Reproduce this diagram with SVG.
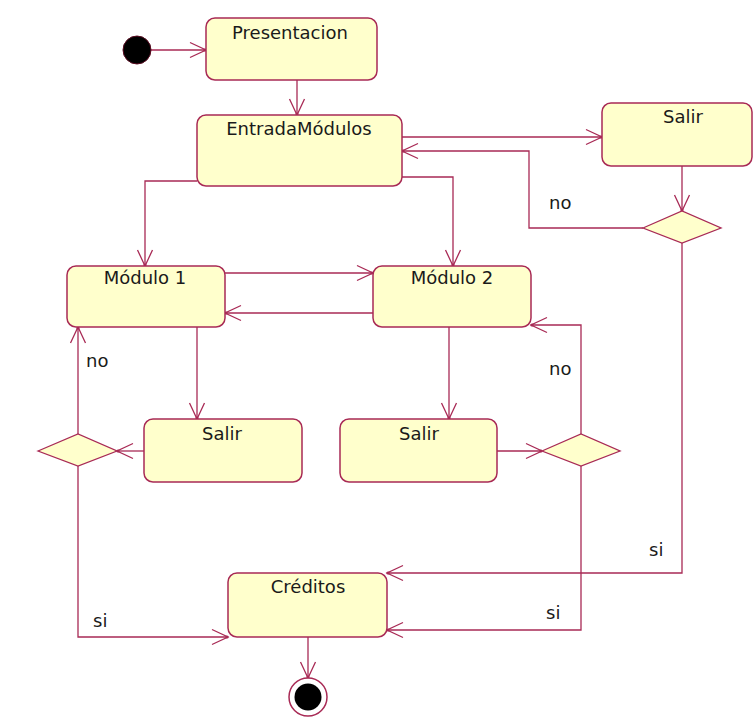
<svg xmlns="http://www.w3.org/2000/svg" width="754" height="719" viewBox="0 0 754 719">
<style>
.box{fill:#ffffcc;stroke:#a82a55;stroke-width:1.5}
.dia{fill:#ffffcc;stroke:#a82a55;stroke-width:1.3}
.ln{fill:none;stroke:#a82a55;stroke-width:1.3;marker-end:url(#ah)}
.t{font-family:"DejaVu Sans",sans-serif;font-size:18px;fill:#1a1a1a;text-anchor:middle}
.l{font-family:"DejaVu Sans",sans-serif;font-size:18px;fill:#1a1a1a}
</style>
<defs>
<marker id="ah" markerUnits="userSpaceOnUse" markerWidth="20" markerHeight="20" viewBox="-18 -10 20 20" refX="0" refY="0" orient="auto">
<path d="M-16,-7.5 L0,0 L-16,7.5" fill="none" stroke="#a82a55" stroke-width="1.3"/>
<circle cx="-1" cy="0" r="1.6" fill="#a82a55"/>
</marker>
</defs>
<rect width="754" height="719" fill="#ffffff"/>
<g id="connectors">
<path class="ln" d="M151,50 L206,50"/>
<path class="ln" d="M297,80 L297,115"/>
<path class="ln" d="M402,137 L602,137"/>
<path class="ln" d="M682,166 L682,211"/>
<path class="ln" d="M643,228 L529,228 L529,151 L402,151"/>
<path class="ln" d="M682,243 L682,573 L387,573"/>
<path class="ln" d="M197,181 L145,181 L145,266"/>
<path class="ln" d="M402,177 L453,177 L453,266"/>
<path class="ln" d="M225,273 L373,273"/>
<path class="ln" d="M373,313 L225,313"/>
<path class="ln" d="M197,327 L197,419"/>
<path class="ln" d="M449,327 L449,419"/>
<path class="ln" d="M144,451 L117,451"/>
<path class="ln" d="M78,434 L78,327"/>
<path class="ln" d="M78,466 L78,637 L228,637"/>
<path class="ln" d="M497,451 L542,451"/>
<path class="ln" d="M581,434 L581,325 L531,325"/>
<path class="ln" d="M581,466 L581,630 L387,630"/>
<path class="ln" d="M308,637 L308,678"/>
</g>
<g id="inicio"><circle cx="137" cy="50" r="14" fill="#000" stroke="#5a0a20" stroke-width="1"/></g>
<g id="presentacion"><rect class="box" x="206" y="18" width="171" height="62" rx="9"/><text class="t" x="290" y="39">Presentacion</text></g>
<g id="entrada"><rect class="box" x="197" y="115" width="205" height="71" rx="9"/><text class="t" x="299" y="135">EntradaMódulos</text></g>
<g id="salir0"><rect class="box" x="602" y="103" width="150" height="63" rx="9"/><text class="t" x="683" y="123">Salir</text></g>
<g id="dec0"><polygon class="dia" points="643,228 682,211 721,228 682,243"/></g>
<g id="modulo1"><rect class="box" x="67" y="266" width="158" height="61" rx="9"/><text class="t" x="145" y="284">Módulo 1</text></g>
<g id="modulo2"><rect class="box" x="373" y="266" width="158" height="61" rx="9"/><text class="t" x="452" y="284">Módulo 2</text></g>
<g id="salir1"><rect class="box" x="144" y="419" width="158" height="63" rx="9"/><text class="t" x="222" y="440">Salir</text></g>
<g id="salir2"><rect class="box" x="340" y="419" width="157" height="63" rx="9"/><text class="t" x="419" y="440">Salir</text></g>
<g id="dec1"><polygon class="dia" points="38,451 78,434 117,451 78,466"/></g>
<g id="dec2"><polygon class="dia" points="542,451 581,434 620,451 581,466"/></g>
<g id="creditos"><rect class="box" x="228" y="573" width="159" height="64" rx="9"/><text class="t" x="308" y="593">Créditos</text></g>
<g id="fin"><circle cx="308" cy="697" r="19" fill="#fff" stroke="#a82a55" stroke-width="1.5"/><circle cx="308" cy="697" r="13.5" fill="#000"/></g>
<g id="labels">
<text class="l" x="549" y="209">no</text>
<text class="l" x="86" y="367">no</text>
<text class="l" x="549" y="375">no</text>
<text class="l" x="93" y="627">si</text>
<text class="l" x="649" y="556">si</text>
<text class="l" x="546" y="619">si</text>
</g>
</svg>
